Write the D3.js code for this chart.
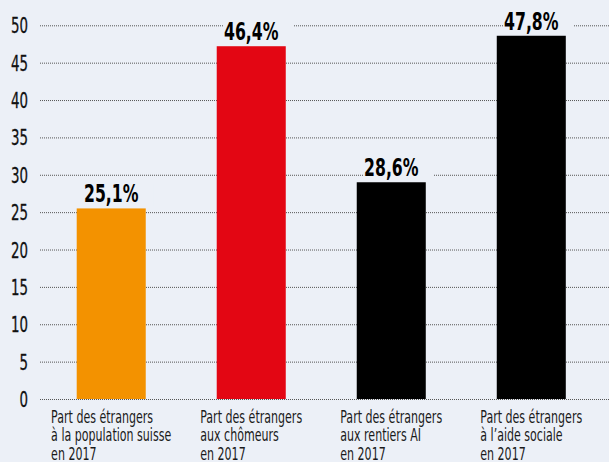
<!DOCTYPE html>
<html>
<head>
<meta charset="utf-8">
<script src="https://cdn.jsdelivr.net/npm/d3@7"></script>
<style>
  body { margin: 0; background: #ecf0f7; }
  svg { display: block; }
  .cond { font-family: "Liberation Sans Narrow", "DejaVu Sans Condensed", "DejaVu Sans", sans-serif; }
</style>
</head>
<body>
<div id="chart"></div>
<script>
// DATA
const categories = ["population", "chomeurs", "rentiers", "aide"]
const catLines = [
  ["Part des étrangers", "à la population suisse", "en 2017"],
  ["Part des étrangers", "aux chômeurs", "en 2017"],
  ["Part des étrangers", "aux rentiers AI", "en 2017"],
  ["Part des étrangers", "à l’aide sociale", "en 2017"]
]
const barValues = [25.5, 47.2, 29.0, 48.6]   // heights as drawn
const valueLabels = ["25,1%", "46,4%", "28,6%", "47,8%"]
const barColors = ["#f39200", "#e30613", "#000000", "#000000"]
const yTicks = [0, 5, 10, 15, 20, 25, 30, 35, 40, 45, 50]

const width = 609, height = 462
const bg = "#ecf0f7"

const svg = d3.select("#chart")
  .append("svg")
  .attr("width", width)
  .attr("height", height)

svg.append("rect")
  .attr("width", width).attr("height", height)
  .attr("fill", bg)

// the original uses a very condensed face; measure ours and squeeze horizontally
function measure(str, size, weight) {
  const t = svg.append("text").attr("class", "cond")
    .attr("font-size", size).attr("font-weight", weight).text(str)
  const w = t.node().getComputedTextLength()
  t.remove()
  return w
}
const kTick = 17 / measure("50", 21, "normal")
const kVal = 54.5 / measure("25,1%", 25, "bold")
const kCat = 102 / measure("Part des étrangers", 17.5, "normal")

const xScale = d3.scaleBand()
  .domain(categories)
  .range([41, 601.5])
  .paddingInner(0.507)
  .paddingOuter(0.255)

const yScale = d3.scaleLinear()
  .domain([0, 50])
  .range([399, 25.3])

// GRID + Y AXIS
const yAxis = d3.axisLeft(yScale)
  .tickValues(yTicks)
  .tickSize(-(width - 40))

svg.append("g")
  .attr("class", "yAxis")
  .attr("transform", "translate(40,0)")
  .call(yAxis)
  .call(g => g.select(".domain").remove())
  .call(g => g.selectAll(".tick line")
    .attr("stroke", "#555")
    .attr("stroke-dasharray", "1,1"))
  .call(g => g.selectAll(".tick text")
    .attr("class", "cond")
    .attr("font-size", 21)
    .attr("fill", "#111")
    .attr("stroke", "#111")
    .attr("stroke-width", 0.3)
    .attr("x", 0)
    .attr("dy", "0.36em")
    .attr("transform", `translate(-12,0) scale(${kTick},1)`))
  .attr("font-family", null)
  .attr("font-size", null)

// BARS
svg.selectAll("rect.bar")
  .data(categories)
  .join("rect")
    .attr("class", "bar")
    .attr("x", d => xScale(d))
    .attr("y", (d, i) => yScale(barValues[i]))
    .attr("width", xScale.bandwidth())
    .attr("height", (d, i) => yScale(0) - yScale(barValues[i]))
    .attr("fill", (d, i) => barColors[i])

// VALUE LABELS (with background knockout over the grid)
const labels = svg.selectAll("g.vlabel")
  .data(categories)
  .join("g")
    .attr("class", "vlabel cond")
    .attr("transform", (d, i) =>
      `translate(${xScale(d) + xScale.bandwidth() / 2},${yScale(barValues[i]) - 6}) scale(${kVal},1)`)

labels.append("rect")
  .attr("fill", bg)

labels.append("text")
  .attr("text-anchor", "middle")
  .attr("font-size", 25)
  .attr("font-weight", "bold")
  .attr("fill", "#000")
  .text((d, i) => valueLabels[i])

labels.each(function() {
  const g = d3.select(this)
  const b = g.select("text").node().getBBox()
  g.select("rect")
    .attr("x", b.x - 1 / kVal)
    .attr("y", b.y + 4)
    .attr("width", b.width + 16 / kVal)
    .attr("height", b.height - 6)
})

// CATEGORY LABELS (block centered under bar, lines left aligned)
const cats = svg.selectAll("g.cat")
  .data(categories)
  .join("g")
    .attr("class", "cat cond")

cats.each(function(d, i) {
  const g = d3.select(this)
  const t = g.append("text")
    .attr("font-size", 17.5)
    .attr("fill", "#1a1a1a")
  catLines[i].forEach((line, j) => {
    t.append("tspan")
      .attr("x", 0)
      .attr("y", 423 + j * 18.3)
      .text(line)
  })
  const w = t.node().getBBox().width * kCat
  g.attr("transform",
    `translate(${xScale(d) + xScale.bandwidth() / 2 - w / 2},0) scale(${kCat},1)`)
})
</script>
</body>
</html>
